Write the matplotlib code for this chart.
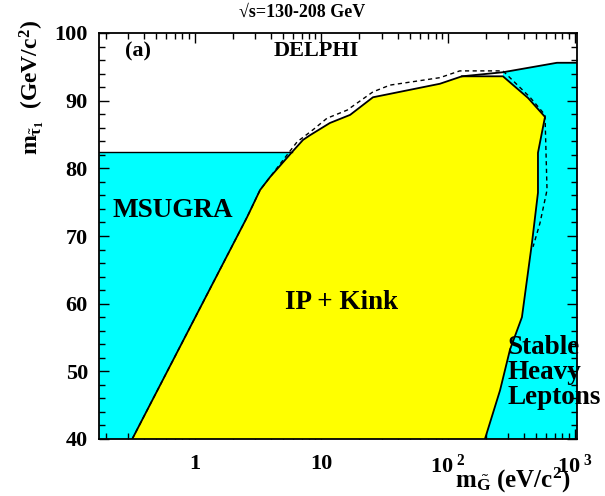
import matplotlib
matplotlib.use('Agg')
import matplotlib.pyplot as plt
from matplotlib.ticker import LogLocator, MultipleLocator, NullFormatter

plt.rcParams['font.family'] = ['Liberation Serif', 'DejaVu Serif']
plt.rcParams['font.weight'] = 'bold'
plt.rcParams['mathtext.fontset'] = 'custom'
plt.rcParams['mathtext.rm'] = 'Liberation Serif:bold'
plt.rcParams['mathtext.it'] = 'Liberation Serif:bold'
plt.rcParams['mathtext.bf'] = 'Liberation Serif:bold'

# 坐标范围
xmin, xmax = 0.176, 1045
ymin, ymax = 40, 100

# MSUGRA 区域上限
msugra_top = 82.4

# IP + Kink 区域左边界 (由下往上)
left_x = [0.322, 2.60, 3.29, 3.94, 5.88]
left_y = [40.0, 72.8, 76.8, 78.7, 82.4]

# 上边界
top_x = [7.18, 8.16, 11.7, 16.9, 25.6, 86.5, 129, 272]
top_y = [84.2, 84.9, 86.7, 87.9, 90.5, 92.5, 93.6, 93.6]

# 右边界 (由上往下)
right_x = [429, 584, 514, 514, 461, 384, 309, 258, 196]
right_y = [90.4, 87.6, 82.3, 76.4, 69.0, 58.0, 53.2, 47.2, 40.0]

# Stable Heavy Leptons 上边界
shl_x = [129, 272, 726, xmax]
shl_y = [93.6, 94.2, 95.6, 95.6]

# 虚线
dash_x = [0.322, 2.60, 3.29, 3.94, 6.44, 8.61, 11.1, 16.0,
          25.6, 34.9, 86.5, 124, 272, 445, 584, 606, 533, 470]
dash_y = [40.0, 72.8, 76.8, 78.7, 83.9, 85.7, 87.4, 88.6,
          91.3, 92.3, 93.4, 94.4, 94.4, 90.5, 87.9, 76.8, 71.9, 68.4]

fig = plt.figure(figsize=(6.05, 4.96), dpi=100)
ax = fig.add_axes([99/605, 1-439/496, 478/605, 406/496])

# 青色区域
cx = [xmin, xmin] + left_x[-1:] + top_x + shl_x[1:] + [xmax]
cy = [ymin, msugra_top] + [msugra_top] + top_y + shl_y[1:] + [ymin]
ax.fill(cx, cy, color='#00ffff', lw=0, zorder=1)

# 黄色区域
yx = left_x + top_x + right_x
yy = left_y + top_y + right_y
ax.fill(yx, yy, color='#ffff00', lw=0, zorder=2)

ax.plot(dash_x, dash_y, 'k--', lw=1.0, dashes=(3, 2.5), zorder=3)
ax.plot(yx, yy, 'k-', lw=1.3, zorder=4)
ax.plot([xmin, left_x[-1]], [msugra_top, msugra_top], 'k-', lw=1.0, zorder=4)
ax.plot(shl_x, shl_y, 'k-', lw=1.3, zorder=4)

ax.set_xscale('log')
ax.set_xlim(xmin, xmax)
ax.set_ylim(ymin, ymax)

ax.set_xticks([1, 10, 100, 1000])
ax.set_xticklabels(['1', '10', r'$10^{\ 2}$', r'$10^{\ 3}$'])
ax.xaxis.set_minor_locator(LogLocator(base=10, subs=range(2, 10), numticks=20))
ax.xaxis.set_minor_formatter(NullFormatter())
ax.yaxis.set_major_locator(MultipleLocator(10))
ax.yaxis.set_minor_locator(MultipleLocator(2))

ax.tick_params(which='both', direction='in', top=True, right=True, width=1.0)
ax.tick_params(which='major', length=7, labelsize=16)
ax.tick_params(axis='x', which='major', pad=11)
ax.tick_params(axis='y', which='major', pad=8)
ax.tick_params(which='minor', length=4)
for s in ax.spines.values():
    s.set_linewidth(1.3)
    s.set_zorder(5)

for lab in ax.get_xticklabels() + ax.get_yticklabels():
    lab.set_fontweight('bold')

# 文字
fig.text(302/605, 1-12/496, '√s=130-208 GeV', ha='center', va='center', fontsize=13, fontweight='bold')
ax.text(0.082, 0.955, '(a)', transform=ax.transAxes, ha='center', va='center', fontsize=16, fontweight='bold')
ax.text(0.455, 0.955, 'DELPHI', transform=ax.transAxes, ha='center', va='center', fontsize=16, fontweight='bold')
ax.text(0.155, 0.562, 'MSUGRA', transform=ax.transAxes, ha='center', va='center', fontsize=19.5, fontweight='bold')
ax.text(0.508, 0.335, 'IP + Kink', transform=ax.transAxes, ha='center', va='center', fontsize=19.5, fontweight='bold')
ax.text(0.855, 0.165, 'Stable\nHeavy\nLeptons', transform=ax.transAxes, ha='left', va='center',
        fontsize=19.5, fontweight='bold', linespacing=1.0)

fig.text(32/605, 1-88/496, r'$\mathrm{m}_{\tilde{\tau}_1}$  (GeV/c$^2$)', rotation=90,
         ha='center', va='center', fontsize=17, fontweight='bold')
fig.text(513/605, 1-480/496, r'$\mathrm{m}_{\tilde{\mathrm{G}}}$ (eV/c$^2$)',
         ha='center', va='center', fontsize=18, fontweight='bold')

fig.savefig('out.png', dpi=100)
